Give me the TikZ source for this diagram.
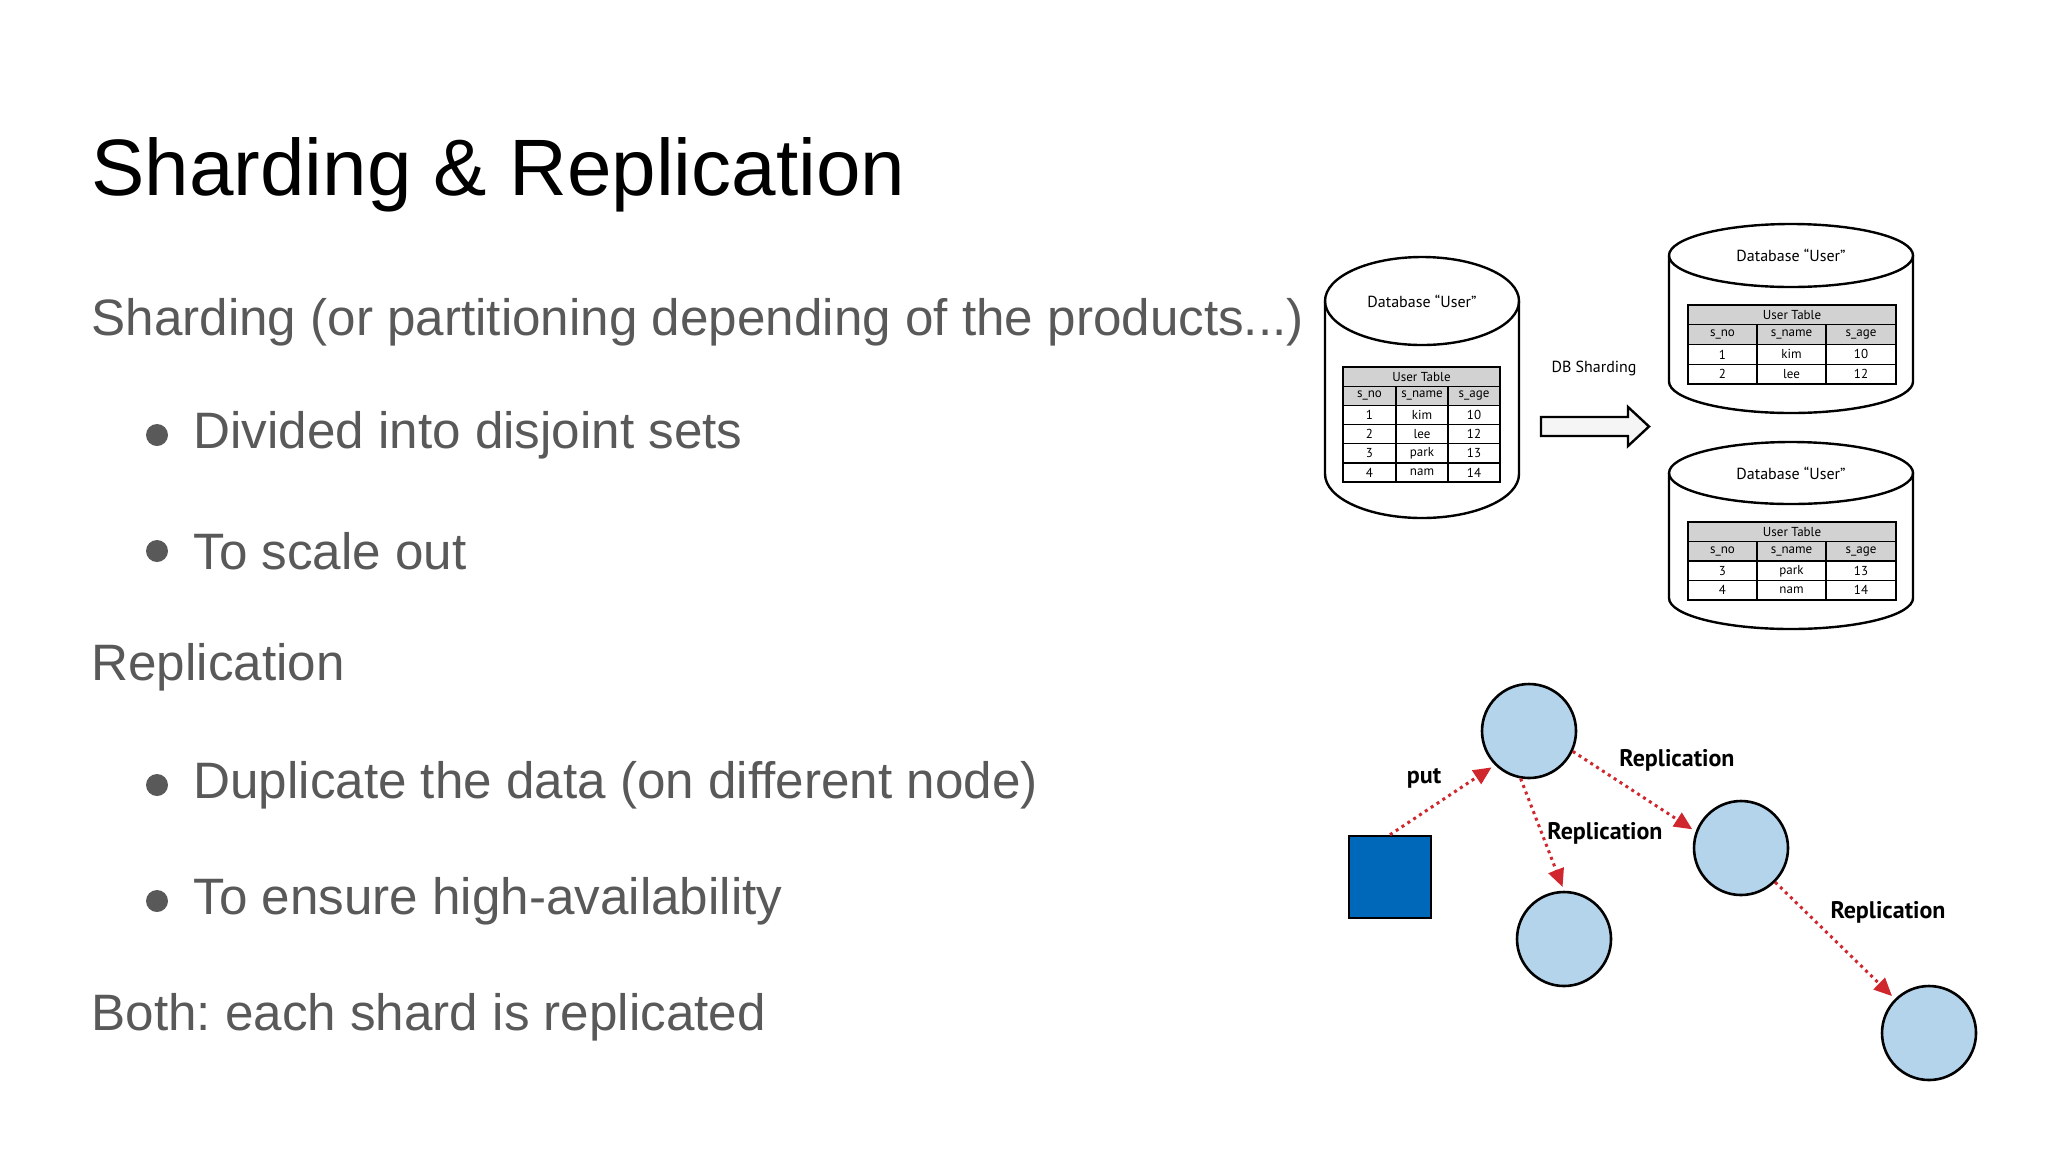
\documentclass[tikz,border=0pt]{standalone}
\usepackage{fontspec}
\setmainfont{Liberation Sans}
\newfontfamily\dgf{PT Sans}
\usetikzlibrary{arrows.meta}
\frenchspacing
\definecolor{txt}{HTML}{595959}
\definecolor{nodeblue}{HTML}{B4D4EC}
\definecolor{sqblue}{HTML}{0068B8}
\definecolor{repred}{HTML}{D0262E}
\newcommand\dbtab[8]{%
  \fill[gray!35] (#1,#5) rectangle (#2,#5+2*#6);
  \draw[line width=0.8pt] (#1,#5) rectangle (#2,#5+#8*#6);
  \foreach \k in {1,...,\numexpr#8-1\relax}{\draw[line width=0.6pt] (#1,#5+\k*#6) -- (#2,#5+\k*#6);}
  \draw[line width=0.6pt] (#3,#5+#6) -- (#3,#5+#8*#6) (#4,#5+#6) -- (#4,#5+#8*#6);
  \node[tt] at ({(#1+#2)/2},#5+0.5*#6) {User Table};
  \foreach \a/\b/\c [count=\i] in {#7}{
    \node[tt] at ({(#1+#3)/2},#5+\i*#6+0.5*#6) {\a};
    \node[tt] at ({(#3+#4)/2},#5+\i*#6+0.5*#6) {\b};
    \node[tt] at ({(#4+#2)/2},#5+\i*#6+0.5*#6) {\c};}
}
\newcommand\cyl[6]{% cx rx cytop ry cybot name
  \draw[line width=1.2pt,fill=white] (#1-#2,#3) -- (#1-#2,#5) arc[start angle=180,end angle=0,x radius=#2,y radius=#4] -- (#1+#2,#3);
  \draw[line width=1.2pt] (#1,#3) ellipse[x radius=#2,y radius=#4];
  \node[dbt] (#6) at (#1,#3) {Database “User”};
}
\begin{document}
\begin{tikzpicture}[x=0.5pt,y=-0.5pt,
  tt/.style={font=\dgf\fontsize{6.5}{7}\selectfont,inner sep=0pt},
  dbt/.style={font=\dgf\fontsize{8}{9}\selectfont,inner sep=0pt},
  body/.style={anchor=west,text=txt,font=\fontsize{25.6}{29}\selectfont,inner sep=0pt},
  bul/.style={circle,fill=txt,inner sep=0pt,minimum size=11pt},
  repnode/.style={circle,draw=black,line width=1.3pt,fill=nodeblue,minimum size=47pt,inner sep=0pt},
  lab/.style={font=\dgf\bfseries\fontsize{12}{14}\selectfont,inner sep=0pt},
  rep/.style={draw=repred,line width=1.5pt,dotted,-{Triangle[length=9pt,width=8pt,fill=repred]},shorten >=2pt}]
\useasboundingbox (0,0) rectangle (2048,1152);
\fill[white] (0,0) rectangle (2048,1152);
\node[anchor=west,inner sep=0pt,font=\fontsize{40}{46}\selectfont] (title) at (91,175) {Sharding \& Replication};
\node[body] (t1) at (91,322) {Sharding (or partitioning depending of the products...)};
\node[bul] (b1) at (157,435) {}; \node[body] (t2) at (193,435) {Divided into disjoint sets};
\node[bul] (b2) at (157,551) {}; \node[body] (t3) at (193,551) {To scale out};
\node[body] (t4) at (91,667) {Replication};
\node[bul] (b3) at (157,785) {}; \node[body] (t5) at (193,785) {Duplicate the data (on different node)};
\node[bul] (b4) at (157,901) {}; \node[body] (t6) at (193,901) {To ensure high-availability};
\node[body] (t7) at (91,1017) {Both: each shard is replicated};
% sharding diagram
\cyl{1422}{97}{301}{44}{474}{d0}
\cyl{1791}{122}{255.5}{31.5}{381.5}{d1}
\cyl{1791}{122}{473}{31}{598}{d2}
\dbtab{1343}{1500}{1396}{1448}{367}{19.2}{s\_no/s\_name/s\_age,1/kim/10,2/lee/12,3/park/13,4/nam/14}{6}
\dbtab{1688}{1896}{1757}{1826}{305}{19.75}{s\_no/s\_name/s\_age,1/kim/10,2/lee/12}{4}
\dbtab{1688}{1896}{1757}{1826}{522}{19.5}{s\_no/s\_name/s\_age,3/park/13,4/nam/14}{4}
\draw[line width=1.2pt,fill=gray!8] (1541,417) -- (1628,417) -- (1628,407) -- (1649,426.5) -- (1628,446) -- (1628,436) -- (1541,436) -- cycle;
\node[dbt] (shl) at (1594,368) {DB Sharding};
% replication diagram
\node[draw=black,line width=1.3pt,fill=sqblue,minimum width=41pt,minimum height=41pt,inner sep=0pt] (sq) at (1390,877) {};
\node[repnode] (c1) at (1529,731) {};
\node[repnode] (c2) at (1564,939) {};
\node[repnode] (c3) at (1741,848) {};
\node[repnode] (c4) at (1929,1033) {};
\draw[rep] (sq.north) -- (c1.south west);
\draw[rep] (c1.-100) -- (c2.north);
\draw[rep] (c1.-25) -- (c3.160);
\draw[rep] (c3.-45) -- (c4.135);
\node[lab] (l0) at (1424,778) {put};
\node[lab] (l1) at (1677,760) {Replication};
\node[lab] (l2) at (1605,833) {Replication};
\node[lab] (l3) at (1888,912) {Replication};
\end{tikzpicture}
\end{document}
